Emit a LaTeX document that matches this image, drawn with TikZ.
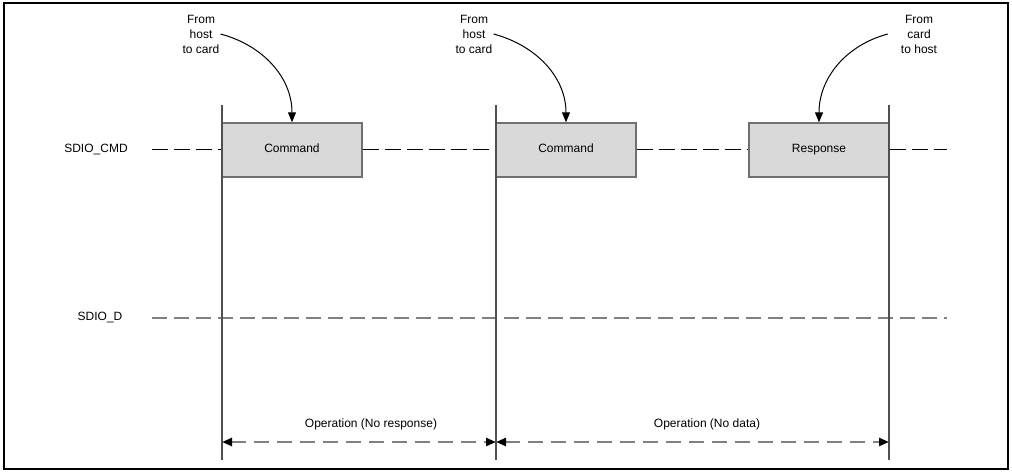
\documentclass[tikz,border=0pt]{standalone}
\usepackage{fontspec}
\setmainfont{Liberation Sans}
\usetikzlibrary{arrows.meta}
\definecolor{boxfill}{HTML}{D9D9D9}
\definecolor{boxline}{HTML}{707070}
\definecolor{vline}{HTML}{505050}
\definecolor{dline}{HTML}{808080}
\tikzset{
  sigbox/.style={draw=boxline, line width=1.4pt, fill=boxfill, minimum width=140pt, minimum height=54pt, inner sep=0pt, text height=8.6pt, text depth=2.6pt},
  lbl/.style={inner sep=1pt, align=center},
  vbar/.style={draw=vline, line width=1.4pt},
  cmdline/.style={draw=black, line width=1pt, dash pattern=on 16pt off 6pt},
  datline/.style={draw=dline, line width=2.6pt, dash pattern=on 15pt off 7pt},
  dimline/.style={draw=dline, line width=2.6pt, dash pattern=on 15pt off 8pt, {Triangle[black,length=10pt,width=8pt]}-{Triangle[black,length=10pt,width=8pt]}},
  callout/.style={draw=black, line width=1pt, -{Triangle[length=10pt,width=8pt]}}
}
\begin{document}
\begin{tikzpicture}[x=1pt,y=-1pt,font=\fontsize{12}{15}\selectfont]
\useasboundingbox (0,0) rectangle (1012,473);
\draw[line width=1.5pt] (4,3) rectangle (1008,469);

% vertical markers
\coordinate (v1t) at (222,105); \coordinate (v1b) at (222,460);
\coordinate (v2t) at (496,105); \coordinate (v2b) at (496,460);
\coordinate (v3t) at (889,105); \coordinate (v3b) at (889,460);

% signal labels
\node[lbl] (cmdlbl) at (96,150) {SDIO\_CMD};
\node[lbl] (dlbl) at (100,318) {SDIO\_D};

% lines
\coordinate (cmdstart) at (152,150);
\coordinate (cmdend) at (947,150);
\coordinate (dstart) at (152,318);
\coordinate (dend) at (947,318);

% boxes
\node[sigbox] (cmd1) at (292,150) {Command};
\node[sigbox] (cmd2) at (566,150) {Command};
\node[sigbox] (resp) at (819,150) {Response};

\draw[cmdline] (cmdstart) -- (cmd1.west);
\draw[cmdline] (cmd1.east) -- (cmd2.west);
\draw[cmdline] (cmd2.east) -- (resp.west);
\draw[cmdline] (resp.east) -- (cmdend);

\draw[datline] (dstart) -- (dend);

\draw[vbar] (v1t) -- (v1b);
\draw[vbar] (v2t) -- (v2b);
\draw[vbar] (v3t) -- (v3b);

% annotations
\node[lbl] (t1) at (201,34) {From\\host\\to card};
\node[lbl] (t2) at (474,34) {From\\host\\to card};
\node[lbl] (t3) at (919,34) {From\\card\\to host};

\draw[callout] (t1.east) to[out=-15,in=90] (cmd1.north);
\draw[callout] (t2.east) to[out=-15,in=90] (cmd2.north);
\draw[callout] ([xshift=-12pt]t3.west) to[out=195,in=90] (resp.north);

% dimensions
\coordinate (d1) at (222,442);
\coordinate (d2) at (496,442);
\coordinate (d3) at (889,442);
\draw[dimline] (d1) -- (d2);
\draw[dimline] (d2) -- (d3);
\node[lbl] (op1) at (371,424) {Operation (No response)};
\node[lbl] (op2) at (707,424) {Operation (No data)};
\end{tikzpicture}
\end{document}
